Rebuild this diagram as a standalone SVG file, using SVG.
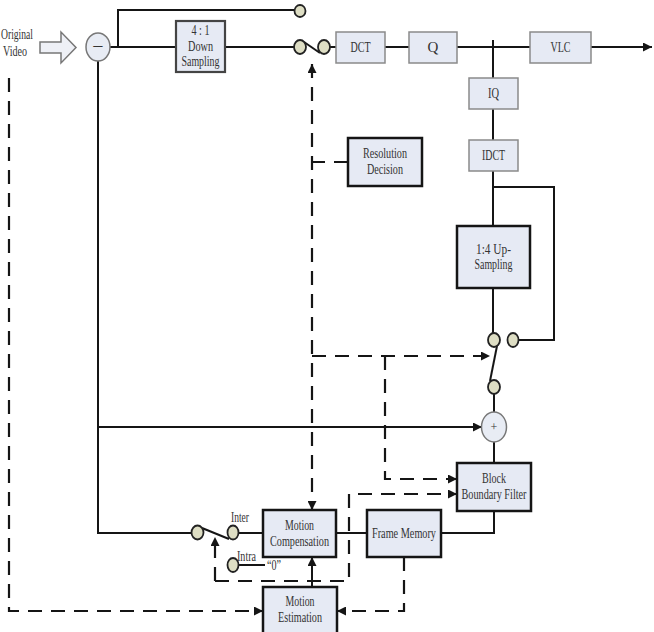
<svg xmlns="http://www.w3.org/2000/svg" width="654" height="632" viewBox="0 0 654 632">
<style>
  .t{font-family:"Liberation Serif","Times New Roman",serif;font-size:15px;fill:#333;text-anchor:middle}
  .ts{font-family:"Liberation Serif","Times New Roman",serif;font-size:14px;fill:#333}
  .thin{fill:#e6eaf4;stroke:#8a8a8a;stroke-width:1.5}
  .mid{fill:#e6eaf4;stroke:#444;stroke-width:2.2}
  .thick{fill:#e6eaf4;stroke:#151515;stroke-width:2.5}
  .ln{fill:none;stroke:#151515;stroke-width:2}
  .ds{fill:none;stroke:#151515;stroke-width:2.2;stroke-dasharray:14 9}
  .sw{fill:#dedec4;stroke:#222;stroke-width:1.8}
</style>
<defs>
  <marker id="ah" viewBox="0 0 10 10" refX="10" refY="5" markerWidth="9" markerHeight="9" markerUnits="userSpaceOnUse" orient="auto-start-reverse">
    <path d="M0,0 L10,5 L0,10 z" fill="#151515"/>
  </marker>
</defs>
<rect width="654" height="632" fill="#ffffff"/>

<g id="connectors">
  <!-- solid -->
  <path class="ln" d="M110,47 H176"/>
  <path class="ln" d="M118,47 V10 H294"/>
  <path class="ln" d="M225,47 H295"/>
  <path class="ln" d="M304,42 L320,53"/>
  <path class="ln" d="M330,47 H336"/>
  <path class="ln" d="M385,47 H409"/>
  <path class="ln" d="M457,47 H530"/>
  <path class="ln" d="M493,40 V78"/>
  <path class="ln" d="M591,47 H652" marker-end="url(#ah)"/>
  <path class="ln" d="M493,109 V140"/>
  <path class="ln" d="M493,171 V226"/>
  <path class="ln" d="M493,187 H554 V340 H519"/>
  <path class="ln" d="M493,288 V333"/>
  <path class="ln" d="M497,346 L490,381"/>
  <path class="ln" d="M494,394 V412"/>
  <path class="ln" d="M494,442 V463"/>
  <path class="ln" d="M98,61 V533 H192"/>
  <path class="ln" d="M98,427 H482" marker-end="url(#ah)"/>
  <path class="ln" d="M202,528 L229,539"/>
  <path class="ln" d="M238,533 H263"/>
  <path class="ln" d="M238,565 H265"/>
  <path class="ln" d="M336,533 H367"/>
  <path class="ln" d="M441,533 H494 V511"/>
  <path class="ln" d="M312,587 V557" marker-end="url(#ah)"/>
  <!-- dashed -->
  <path class="ds" d="M312,64 V510" marker-start="url(#ah)" marker-end="url(#ah)"/>
  <path class="ds" d="M348,162 H312"/>
  <path class="ds" d="M312,356 H490" marker-end="url(#ah)"/>
  <path class="ds" d="M385,356 V479 H457" marker-end="url(#ah)"/>
  <path class="ds" d="M215,581 H349 V494 H457" marker-end="url(#ah)"/>
  <path class="ds" d="M215,581 V537" marker-end="url(#ah)"/>
  <path class="ds" d="M9,78 V611 H263" marker-end="url(#ah)"/>
  <path class="ds" d="M404,557 V611 H337" marker-end="url(#ah)"/>
</g>

<g id="input">
  <text class="ts" x="1" y="39" textLength="32" lengthAdjust="spacingAndGlyphs">Original</text>
  <text class="ts" x="3" y="56" textLength="24" lengthAdjust="spacingAndGlyphs">Video</text>
  <path d="M40,42 H61 V32 L76,47.5 L61,63 V53 H40 Z" fill="#eef0f6" stroke="#777" stroke-width="1.5"/>
</g>

<g id="subtract">
  <ellipse cx="98" cy="47" rx="12" ry="14" fill="#e8ecf4" stroke="#777" stroke-width="1.5"/>
  <text class="t" x="98" y="53" style="font-size:20px">−</text>
</g>

<g id="downsampling">
  <rect class="mid" x="176" y="21" width="49" height="51"/>
  <text class="t" x="200.5" y="35" textLength="18" lengthAdjust="spacingAndGlyphs">4 : 1</text>
  <text class="t" x="200.5" y="51" textLength="25" lengthAdjust="spacingAndGlyphs">Down</text>
  <text class="t" x="200.5" y="66" textLength="38" lengthAdjust="spacingAndGlyphs">Sampling</text>
</g>

<g id="switch-top">
  <ellipse class="sw" cx="300" cy="11" rx="5.5" ry="6"/>
  <ellipse class="sw" cx="300" cy="47" rx="6" ry="7"/>
  <ellipse class="sw" cx="324" cy="47" rx="6" ry="7"/>
</g>

<g id="dct">
  <rect class="thin" x="336" y="32" width="49" height="31"/>
  <text class="t" x="360.5" y="52" textLength="20" lengthAdjust="spacingAndGlyphs">DCT</text>
</g>
<g id="q">
  <rect class="thin" x="409" y="32" width="48" height="31"/>
  <text class="t" x="433" y="52">Q</text>
</g>
<g id="vlc">
  <rect class="thin" x="530" y="32" width="61" height="31"/>
  <text class="t" x="560.5" y="52" textLength="20" lengthAdjust="spacingAndGlyphs">VLC</text>
</g>
<g id="iq">
  <rect class="thin" x="469" y="78" width="49" height="31"/>
  <text class="t" x="493.5" y="98" textLength="11" lengthAdjust="spacingAndGlyphs">IQ</text>
</g>
<g id="idct">
  <rect class="thin" x="469" y="140" width="49" height="31"/>
  <text class="t" x="493.5" y="160" textLength="23" lengthAdjust="spacingAndGlyphs">IDCT</text>
</g>

<g id="resolution-decision">
  <rect class="thick" x="348" y="138" width="74" height="48"/>
  <text class="t" x="385" y="158" textLength="44" lengthAdjust="spacingAndGlyphs">Resolution</text>
  <text class="t" x="385" y="174" textLength="36" lengthAdjust="spacingAndGlyphs">Decision</text>
</g>

<g id="upsampling">
  <rect class="thick" x="457" y="226" width="73" height="62"/>
  <text class="t" x="493.5" y="254" textLength="35" lengthAdjust="spacingAndGlyphs">1:4 Up-</text>
  <text class="t" x="493.5" y="269" textLength="38" lengthAdjust="spacingAndGlyphs">Sampling</text>
</g>

<g id="switch-up">
  <ellipse class="sw" cx="494" cy="340" rx="6" ry="7"/>
  <ellipse class="sw" cx="513" cy="340" rx="5.5" ry="7"/>
  <ellipse class="sw" cx="494" cy="387" rx="6" ry="7"/>
</g>

<g id="add">
  <ellipse cx="494" cy="427" rx="12.5" ry="15" fill="#e8ecf4" stroke="#777" stroke-width="1.5"/>
  <text class="t" x="494" y="431" style="font-size:12px">+</text>
</g>

<g id="block-boundary-filter">
  <rect class="thick" x="457" y="463" width="74" height="48"/>
  <text class="t" x="494" y="483" textLength="24" lengthAdjust="spacingAndGlyphs">Block</text>
  <text class="t" x="494" y="499" textLength="65" lengthAdjust="spacingAndGlyphs">Boundary Filter</text>
</g>

<g id="frame-memory">
  <rect class="thick" x="367" y="510" width="74" height="47"/>
  <text class="t" x="404" y="538" textLength="64" lengthAdjust="spacingAndGlyphs">Frame Memory</text>
</g>

<g id="motion-compensation">
  <rect class="thick" x="263" y="510" width="73" height="47"/>
  <text class="t" x="299.5" y="530" textLength="29" lengthAdjust="spacingAndGlyphs">Motion</text>
  <text class="t" x="299.5" y="546" textLength="59" lengthAdjust="spacingAndGlyphs">Compensation</text>
</g>

<g id="motion-estimation">
  <rect class="thick" x="263" y="587" width="74" height="52"/>
  <text class="t" x="300" y="606" textLength="29" lengthAdjust="spacingAndGlyphs">Motion</text>
  <text class="t" x="300" y="622" textLength="44" lengthAdjust="spacingAndGlyphs">Estimation</text>
</g>

<g id="switch-mc">
  <ellipse class="sw" cx="197.5" cy="532.5" rx="6" ry="7"/>
  <ellipse class="sw" cx="233" cy="532.5" rx="5.5" ry="7"/>
  <ellipse class="sw" cx="233" cy="565" rx="5.5" ry="7"/>
  <text class="ts" x="231" y="522" textLength="18" lengthAdjust="spacingAndGlyphs">Inter</text>
  <text class="ts" x="237" y="561" textLength="19" lengthAdjust="spacingAndGlyphs">Intra</text>
  <text class="ts" x="267" y="570" textLength="14" lengthAdjust="spacingAndGlyphs">“0”</text>
</g>
</svg>
